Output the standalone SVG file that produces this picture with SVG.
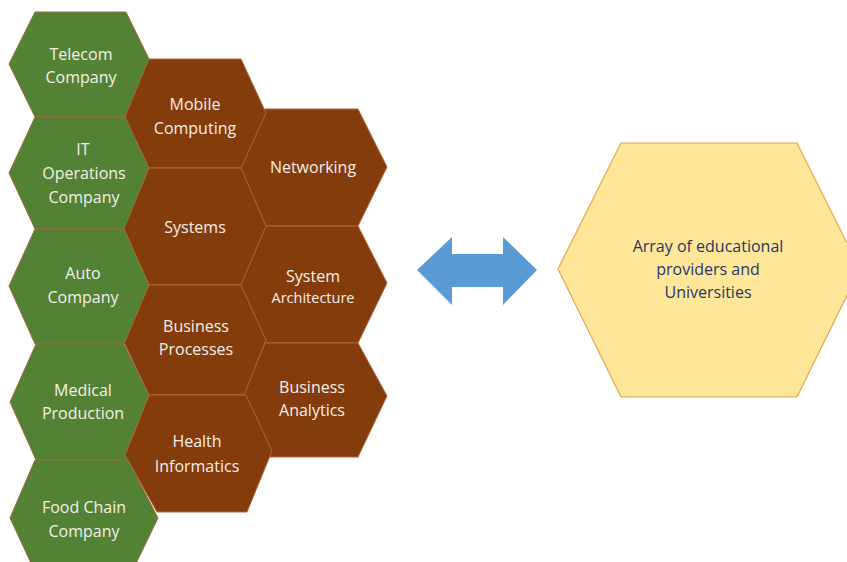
<svg xmlns="http://www.w3.org/2000/svg" width="847" height="562" viewBox="0 0 847 562">
  <style>
    .green { fill: #548235; stroke: #9a6a3c; stroke-width: 1; }
    .brown { fill: #843c0c; stroke: #b0643a; stroke-width: 1; }
    .yellow { fill: #ffe699; stroke: #e0a552; stroke-width: 1.2; }
    .lbl { font-family: "Open Sans", "Liberation Sans", sans-serif; font-size: 16px; fill: #f4efe9; text-anchor: middle; }
    .small { font-size: 14.5px; }
    .dark { fill: #1f3864; }
    .arrow { fill: #5b9bd5; }
  </style>
  <rect width="847" height="562" fill="#ffffff"/>

  <!-- third column -->
  <g id="networking">
    <polygon class="brown" points="240,166 265,109 358,109 387,167 358,226 265,226"/>
    <text class="lbl" x="313" y="173">Networking</text>
  </g>
  <g id="system-architecture">
    <polygon class="brown" points="240,285 265,226 358,226 387,283 358,343 265,343"/>
    <text class="lbl" x="313" y="282">System</text>
    <text class="lbl small" x="313" y="303">Architecture</text>
  </g>
  <g id="business-analytics">
    <polygon class="brown" points="243,394 265,343 358,343 387,396 358,457 267,457"/>
    <text class="lbl" x="312" y="393">Business</text>
    <text class="lbl" x="312" y="416">Analytics</text>
  </g>

  <!-- second column -->
  <g id="mobile-computing">
    <polygon class="brown" points="123,115 149,59 241,59 266,113 241,168 149,168"/>
    <text class="lbl" x="195" y="110">Mobile</text>
    <text class="lbl" x="195" y="134">Computing</text>
  </g>
  <g id="systems">
    <polygon class="brown" points="123,227 149,168 241,168 266,226 241,285 149,285"/>
    <text class="lbl" x="195" y="233">Systems</text>
  </g>
  <g id="business-processes">
    <polygon class="brown" points="123,340 149,285 241,285 266,340 244,395 149,395"/>
    <text class="lbl" x="196" y="332">Business</text>
    <text class="lbl" x="196" y="355">Processes</text>
  </g>
  <g id="health-informatics">
    <polygon class="brown" points="125,455 149,395 246,395 272,451 247,512 157,512"/>
    <text class="lbl" x="197" y="447">Health</text>
    <text class="lbl" x="197" y="472">Informatics</text>
  </g>

  <!-- first column -->
  <g id="telecom-company">
    <polygon class="green" points="9,64 35,12 126,12 149,59 125,117 35,117"/>
    <text class="lbl" x="81" y="60">Telecom</text>
    <text class="lbl" x="81" y="83">Company</text>
  </g>
  <g id="it-operations-company">
    <polygon class="green" points="9,173 35,117 125,117 149,168 124,229 35,229"/>
    <text class="lbl" x="83" y="155">IT</text>
    <text class="lbl" x="84" y="179">Operations</text>
    <text class="lbl" x="84" y="203">Company</text>
  </g>
  <g id="auto-company">
    <polygon class="green" points="9,286 35,229 124,229 149,285 124,344 35,344"/>
    <text class="lbl" x="83" y="279">Auto</text>
    <text class="lbl" x="83" y="303">Company</text>
  </g>
  <g id="medical-production">
    <polygon class="green" points="10,402 36,344 124,344 149,395 125,455 128,460 36,460"/>
    <text class="lbl" x="83" y="396">Medical</text>
    <text class="lbl" x="83" y="419">Production</text>
  </g>
  <g id="food-chain-company">
    <polygon class="green" points="10,518 35,460 128,460 158,518 130,576 37,576"/>
    <text class="lbl" x="84" y="513">Food Chain</text>
    <text class="lbl" x="84" y="537">Company</text>
  </g>

  <!-- institutions -->
  <g id="educational-providers">
    <polygon class="yellow" points="558,269 621,143 797,143 860,269 797,397 621,397"/>
    <text class="lbl dark" x="708" y="252">Array of educational</text>
    <text class="lbl dark" x="708" y="275">providers and</text>
    <text class="lbl dark" x="708" y="298">Universities</text>
  </g>

  <!-- connectors -->
  <g id="connectors">
    <polygon class="arrow" points="417,270 452,237 452,254 503,254 503,237 537,270 503,305 503,287 452,287 452,305"/>
  </g>
</svg>
